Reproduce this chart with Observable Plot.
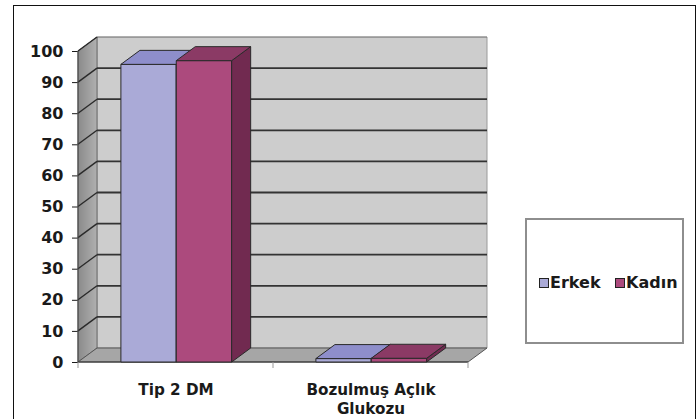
<!DOCTYPE html>
<html>
<head>
<meta charset="utf-8">
<script src="https://cdn.jsdelivr.net/npm/d3@7"></script>
<script src="https://cdn.jsdelivr.net/npm/@observablehq/plot@0.6"></script>
<style>
  body { margin: 0; background: #fff; }
  #wrap { position: relative; width: 699px; height: 419px; overflow: hidden; background: #fff; }
  #frame { position: absolute; left: 13px; top: 5px; width: 683px; height: 430px; border: 1.5px solid #111; box-sizing: border-box; pointer-events: none; }
  #legend { position: absolute; left: 525px; top: 218px; width: 159px; height: 126px; border: 2px solid #8e8e8e; box-sizing: border-box; background: #fff;
    font-family: "DejaVu Sans", sans-serif; font-weight: bold; font-size: 16px; color: #1a1a1a; }
  .item { position: absolute; top: 53px; display: flex; align-items: center; }
  .sw { width: 8px; height: 8px; border: 1.5px solid #222; margin-right: 1px; }
  svg { position: absolute; left: 0; top: 0; }
</style>
</head>
<body>
<div id="wrap"><div id="chart"></div><div id="frame"></div><div id="legend"></div></div>
<script>
const categories = ["Tip 2 DM", "Bozulmuş Açlık\nGlukozu"];
const seriesNames = ["Erkek", "Kadın"];
const erkekValues = [95.7, 1.1];
const kadinValues = [96.9, 1.2];
const yTicks = [0, 10, 20, 30, 40, 50, 60, 70, 80, 90, 100];

const seriesColors = {
  Erkek: { front: "#aaaad7", top: "#8e8ecb", side: "#7a7ab4" },
  Kadın: { front: "#ac4a7d", top: "#8b3a65", side: "#712a50" }
};

const rows = [];
categories.forEach((c, i) => {
  rows.push({ category: c, series: "Erkek", value: erkekValues[i] });
  rows.push({ category: c, series: "Kadın", value: kadinValues[i] });
});

const DX = 19, DY = -14;

function poly(g, pts, fill, stroke, sw) {
  g.append("path")
    .attr("d", "M" + pts.map(p => p.join(",")).join("L") + "Z")
    .attr("fill", fill)
    .attr("stroke", stroke || "none")
    .attr("stroke-width", sw || 1)
    .attr("stroke-linejoin", "round");
}

function scene(index, scales, values, dims) {
  const x = scales.x, y = scales.y;
  const X0 = dims.marginLeft, X1 = dims.width - dims.marginRight;
  const bw = x.bandwidth ? x.bandwidth() : (X1 - X0) / categories.length;
  const Y0 = y(0), YT = y(100);
  const g = d3.create("svg:g");
  const defs = g.append("defs");
  const lg = defs.append("linearGradient").attr("id", "lw").attr("x1", 0).attr("x2", 1).attr("y1", 0).attr("y2", 0);
  lg.append("stop").attr("offset", 0).attr("stop-color", "#8a8a8a");
  lg.append("stop").attr("offset", 1).attr("stop-color", "#b0b0b0");

  poly(g, [[X0 + DX, YT + DY], [X1 + DX, YT + DY], [X1 + DX, Y0 + DY], [X0 + DX, Y0 + DY]], "#cdcdcd", "#9a9a9a", 1);
  poly(g, [[X0, Y0], [X0, YT], [X0 + DX, YT + DY], [X0 + DX, Y0 + DY]], "url(#lw)", "#6a6a6a", 1);
  poly(g, [[X0, Y0], [X1, Y0], [X1 + DX, Y0 + DY], [X0 + DX, Y0 + DY]], "#a6a6a6", "#555", 1);

  for (const t of yTicks) {
    if (t === 0) continue;
    const yy = y(t);
    g.append("line").attr("x1", X0 + DX).attr("x2", X1 + DX).attr("y1", yy + DY).attr("y2", yy + DY)
      .attr("stroke", "#333").attr("stroke-width", t === 100 ? 1 : 1.8).attr("stroke-opacity", t === 100 ? 0.4 : 1);
    g.append("line").attr("x1", X0).attr("x2", X0 + DX).attr("y1", yy).attr("y2", yy + DY)
      .attr("stroke", "#2a2a2a").attr("stroke-width", 1.4);
  }
  g.append("line").attr("x1", X0).attr("x2", X0).attr("y1", YT).attr("y2", Y0).attr("stroke", "#444").attr("stroke-width", 1);
  g.append("line").attr("x1", X0).attr("x2", X1).attr("y1", Y0).attr("y2", Y0).attr("stroke", "#333").attr("stroke-width", 1.2);
  for (let i = 0; i <= categories.length; i++) {
    const xx = X0 + i * bw;
    g.append("line").attr("x1", xx).attr("x2", xx).attr("y1", Y0).attr("y2", Y0 + 6).attr("stroke", "#999").attr("stroke-width", 1);
  }

  const off = 0.22 * bw, w = 0.284 * bw;
  for (const r of rows) {
    const si = seriesNames.indexOf(r.series);
    const bx0 = x(r.category) + off + si * w, bx1 = bx0 + w;
    const yt = y(r.value);
    const col = seriesColors[r.series];
    poly(g, [[bx0, Y0], [bx1, Y0], [bx1, yt], [bx0, yt]], col.front, "#2a2a2a", 1);
    poly(g, [[bx1, Y0], [bx1 + DX, Y0 + DY], [bx1 + DX, yt + DY], [bx1, yt]], col.side, "#2a2a2a", 1);
    poly(g, [[bx0, yt], [bx1, yt], [bx1 + DX, yt + DY], [bx0 + DX, yt + DY]], col.top, "#2a2a2a", 1);
  }
  return g.node();
}

const chart = Plot.plot({
  width: 699,
  height: 419,
  marginLeft: 78,
  marginRight: 231,
  marginTop: 51,
  marginBottom: 57,
  style: { fontFamily: "DejaVu Sans, sans-serif", fontWeight: "bold", fontSize: "16px", color: "#1a1a1a", background: "transparent", overflow: "visible" },
  x: { type: "band", domain: categories, padding: 0, axis: null },
  y: { domain: [0, 100], ticks: yTicks, tickSize: 6, tickPadding: 9, label: null, tickFormat: d => String(d) },
  marks: [
    scene,
    Plot.text(categories, {
      x: d => d, text: d => d, frameAnchor: "bottom", lineAnchor: "top", dy: 20,
      lineHeight: 1.2, fontSize: 15.2, fontWeight: "bold", fill: "#1a1a1a"
    })
  ]
});
document.getElementById("chart").appendChild(chart);

const legend = document.getElementById("legend");
const legendPos = { Erkek: 12, Kadın: 88 };
for (const s of seriesNames) {
  const item = document.createElement("div");
  item.className = "item";
  item.style.left = legendPos[s] + "px";
  const sw = document.createElement("div");
  sw.className = "sw";
  sw.style.background = seriesColors[s].front;
  item.appendChild(sw);
  const t = document.createElement("span");
  t.textContent = s;
  item.appendChild(t);
  legend.appendChild(item);
}
</script>
</body>
</html>
